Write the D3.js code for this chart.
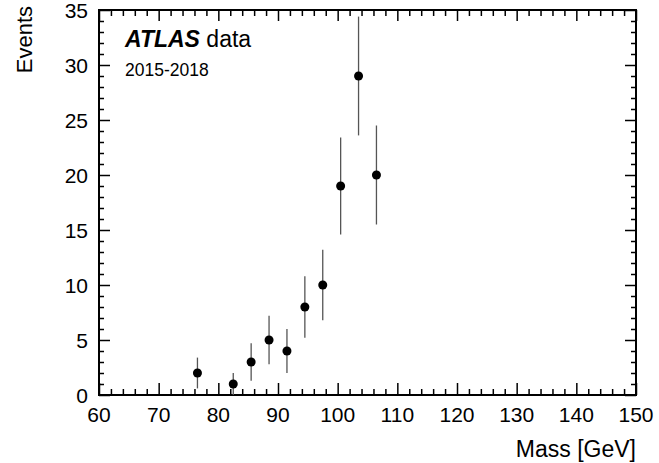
<!DOCTYPE html>
<html>
<head>
<meta charset="utf-8">
<script src="https://cdn.jsdelivr.net/npm/d3@7"></script>
<style>
  body { margin: 0; background: white; }
  svg text { font-family: "Liberation Sans", Arial, sans-serif; fill: #000; }
  .axis path { display: none; }
  .axis line { stroke: #000; stroke-width: 1.5; }
  .axis text { font-size: 21px; }
</style>
</head>
<body>
<div id="chart"></div>
<script>
// bin centres (GeV), event counts and their errors
const massBins = [76.5, 82.5, 85.5, 88.5, 91.5, 94.5, 97.5, 100.5, 103.5, 106.5];
const events = [2, 1, 3, 5, 4, 8, 10, 19, 29, 20];
const errors = [1.4, 1.0, 1.7, 2.2, 2.0, 2.8, 3.2, 4.4, 5.4, 4.5];

const xTicks = [60, 70, 80, 90, 100, 110, 120, 130, 140, 150];
const yTicks = [0, 5, 10, 15, 20, 25, 30, 35];

const width = 659;
const height = 463;
const margin = {top: 10, left: 99, right: 23, bottom: 68};

const data = massBins.map(function(m, i) {
    return {mass: m, n: events[i], err: errors[i]};
});

const xScale = d3.scaleLinear()
    .domain([60, 150])
    .range([margin.left, width - margin.right]);

const yScale = d3.scaleLinear()
    .domain([0, 35])
    .range([height - margin.bottom, margin.top]);

const svg = d3.select("#chart")
    .append("svg")
    .attr("width", width)
    .attr("height", height);

const x0 = margin.left, x1 = width - margin.right;
const y0 = height - margin.bottom, y1 = margin.top;

// minor ticks: every 2 GeV on x, every 1 event on y
const xMinor = d3.range(60, 150.1, 2).filter(function(v) { return v % 10 !== 0; });
const yMinor = d3.range(0, 35.1, 1).filter(function(v) { return v % 5 !== 0; });

// bottom axis
svg.append("g").attr("class", "axis")
    .attr("transform", `translate(0,${y0})`)
    .call(d3.axisTop(xScale).tickValues(xTicks).tickSize(12).tickFormat(""));
svg.append("g").attr("class", "axis")
    .attr("transform", `translate(0,${y0})`)
    .call(d3.axisTop(xScale).tickValues(xMinor).tickSize(6).tickFormat(""));
svg.append("g").attr("class", "axis")
    .selectAll("text")
    .data(xTicks)
    .enter()
    .append("text")
        .attr("x", function(d) { return xScale(d); })
        .attr("y", y0 + 27)
        .attr("text-anchor", "middle")
        .text(function(d) { return d; });

// top axis
svg.append("g").attr("class", "axis")
    .attr("transform", `translate(0,${y1})`)
    .call(d3.axisBottom(xScale).tickValues(xTicks).tickSize(11).tickFormat(""));
svg.append("g").attr("class", "axis")
    .attr("transform", `translate(0,${y1})`)
    .call(d3.axisBottom(xScale).tickValues(xMinor).tickSize(6).tickFormat(""));

// left axis
svg.append("g").attr("class", "axis")
    .attr("transform", `translate(${x0},0)`)
    .call(d3.axisRight(yScale).tickValues(yTicks).tickSize(11).tickFormat(""));
svg.append("g").attr("class", "axis")
    .attr("transform", `translate(${x0},0)`)
    .call(d3.axisRight(yScale).tickValues(yMinor).tickSize(5).tickFormat(""));
svg.append("g").attr("class", "axis")
    .selectAll("text")
    .data(yTicks)
    .enter()
    .append("text")
        .attr("x", x0 - 11)
        .attr("y", function(d) { return yScale(d) + 7.5; })
        .attr("text-anchor", "end")
        .text(function(d) { return d; });

// right axis
svg.append("g").attr("class", "axis")
    .attr("transform", `translate(${x1},0)`)
    .call(d3.axisLeft(yScale).tickValues(yTicks).tickSize(11).tickFormat(""));
svg.append("g").attr("class", "axis")
    .attr("transform", `translate(${x1},0)`)
    .call(d3.axisLeft(yScale).tickValues(yMinor).tickSize(5).tickFormat(""));

// frame
svg.append("rect")
    .attr("x", x0)
    .attr("y", y1)
    .attr("width", x1 - x0)
    .attr("height", y0 - y1)
    .attr("fill", "none")
    .attr("stroke", "#000")
    .attr("stroke-width", 2);

// axis titles
svg.append("text")
    .attr("x", x1)
    .attr("y", 457)
    .attr("text-anchor", "end")
    .attr("font-size", 23)
    .text("Mass [GeV]");

svg.append("text")
    .attr("transform", "translate(32,6) rotate(-90)")
    .attr("text-anchor", "end")
    .attr("font-size", 22)
    .text("Events");

// ATLAS label
const lab = svg.append("text")
    .attr("x", 125)
    .attr("y", 47)
    .attr("font-size", 23);
lab.append("tspan")
    .attr("font-weight", "bold")
    .attr("font-style", "italic")
    .text("ATLAS");
lab.append("tspan").text(" data");

svg.append("text")
    .attr("x", 125)
    .attr("y", 76)
    .attr("font-size", 17.5)
    .text("2015-2018");

// error bars
svg.selectAll(".err")
    .data(data)
    .enter()
    .append("line")
        .attr("class", "err")
        .attr("x1", function(d) { return xScale(d.mass); })
        .attr("x2", function(d) { return xScale(d.mass); })
        .attr("y1", function(d) { return yScale(Math.max(0, d.n - d.err)); })
        .attr("y2", function(d) { return yScale(d.n + d.err); })
        .attr("stroke", "#555")
        .attr("stroke-width", 1.3);

// points
svg.selectAll(".pt")
    .data(data)
    .enter()
    .append("circle")
        .attr("class", "pt")
        .attr("cx", function(d) { return xScale(d.mass); })
        .attr("cy", function(d) { return yScale(d.n); })
        .attr("r", 4.5)
        .attr("fill", "#000");
</script>
</body>
</html>
